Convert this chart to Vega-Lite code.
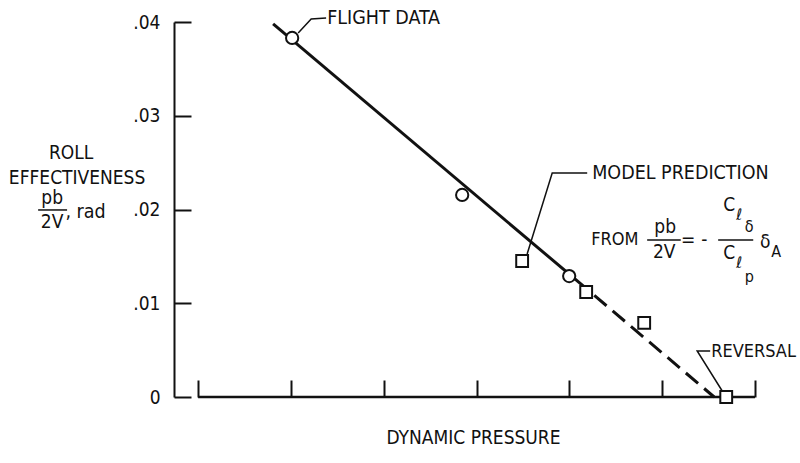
{
  "$schema": "https://vega.github.io/schema/vega-lite/v6.json",
  "autosize": "none",
  "width": 581,
  "height": 375,
  "padding": {"left": 174, "top": 22, "right": 45, "bottom": 66},
  "background": "white",
  "config": {
    "view": {"stroke": null},
    "font": "DejaVu Sans Condensed, DejaVu Sans, sans-serif",
    "text": {"color": "#111", "fontSize": 19}
  },
  "layer": [
    {
      "data": {"values": [{"a": 0, "b": 6, "y": 0}]},
      "mark": {"type": "rule", "color": "#111", "strokeWidth": 2.5},
      "encoding": {
        "x": {"field": "a", "type": "quantitative", "scale": {"domain": [-0.26, 6], "nice": false, "zero": false},
          "axis": {"values": [0, 1, 2, 3, 4, 5, 6], "domain": false, "grid": false, "labels": false, "tickSize": -17, "tickWidth": 2, "tickColor": "#111",
            "title": "DYNAMIC PRESSURE", "titleFontSize": 19, "titleFontWeight": "normal", "titleColor": "#111", "titleX": 299, "titleY": 40, "titleBaseline": "middle", "titleAlign": "center"}},
        "x2": {"field": "b"},
        "y": {"field": "y", "type": "quantitative", "scale": {"domain": [0, 0.04], "nice": false},
          "axis": {"values": [0, 0.01, 0.02, 0.03, 0.04], "grid": false, "domainWidth": 2, "domainColor": "#111", "tickSize": -17, "tickWidth": 2, "tickColor": "#111",
            "labelExpr": "datum.value == 0 ? '0' : replace(format(datum.value, '.2f'), '0.', '.')", "labelFontSize": 19, "labelColor": "#111", "labelPadding": 31, "title": null}}
      }
    },
    {
      "data": {"values": [
        {"s": "solid", "o": 1, "x": 0.808, "y": 0.0398},
        {"s": "solid", "o": 2, "x": 4.203, "y": 0.01139}
      ]},
      "mark": {"type": "line", "color": "#111", "strokeWidth": 3},
      "encoding": {"x": {"field": "x", "type": "quantitative"}, "y": {"field": "y", "type": "quantitative"}, "order": {"field": "o"}}
    },
    {
      "data": {"values": [
        {"s": "dash", "o": 1, "x": 4.203, "y": 0.01139},
        {"s": "dash", "o": 2, "x": 5.56, "y": 0}
      ]},
      "mark": {"type": "line", "color": "#111", "strokeWidth": 3, "strokeDash": [16, 8], "strokeDashOffset": -8},
      "encoding": {"x": {"field": "x", "type": "quantitative"}, "y": {"field": "y", "type": "quantitative"}, "order": {"field": "o"}}
    },
    {
      "data": {"values": [
        {"g": "flight", "o": 1, "x": 1.078, "y": 0.03883},
        {"g": "flight", "o": 2, "x": 1.218, "y": 0.04032},
        {"g": "flight", "o": 3, "x": 1.379, "y": 0.04043},
        {"g": "model", "o": 1, "x": 3.545, "y": 0.01525},
        {"g": "model", "o": 2, "x": 3.815, "y": 0.02389},
        {"g": "model", "o": 3, "x": 4.192, "y": 0.02389},
        {"g": "rev", "o": 1, "x": 5.647, "y": 0.00064},
        {"g": "rev", "o": 2, "x": 5.377, "y": 0.00491},
        {"g": "rev", "o": 3, "x": 5.517, "y": 0.00491}
      ]},
      "mark": {"type": "line", "color": "#111", "strokeWidth": 1.5},
      "encoding": {"x": {"field": "x", "type": "quantitative"}, "y": {"field": "y", "type": "quantitative"}, "detail": {"field": "g"}, "order": {"field": "o"}}
    },
    {
      "data": {"values": [
        {"x": 1.013, "y": 0.0383},
        {"x": 2.845, "y": 0.02155},
        {"x": 3.998, "y": 0.0129}
      ]},
      "mark": {"type": "point", "shape": "circle", "filled": false, "fill": "white", "fillOpacity": 1, "stroke": "#111", "strokeWidth": 2, "size": 150, "opacity": 1},
      "encoding": {"x": {"field": "x", "type": "quantitative"}, "y": {"field": "y", "type": "quantitative"}}
    },
    {
      "data": {"values": [
        {"x": 3.491, "y": 0.01451},
        {"x": 4.181, "y": 0.0112},
        {"x": 4.806, "y": 0.0079},
        {"x": 5.69, "y": 0}
      ]},
      "mark": {"type": "point", "shape": "square", "filled": false, "fill": "white", "fillOpacity": 1, "stroke": "#111", "strokeWidth": 2, "size": 140, "opacity": 1},
      "encoding": {"x": {"field": "x", "type": "quantitative"}, "y": {"field": "y", "type": "quantitative"}}
    },
    {
      "data": {"values": [
        {"a": -1.724, "b": -1.412, "y": 0.01995},
        {"a": 4.838, "b": 5.2, "y": 0.01675},
        {"a": 5.603, "b": 5.981, "y": 0.01675}
      ]},
      "mark": {"type": "rule", "color": "#111", "strokeWidth": 1.5},
      "encoding": {"x": {"field": "a", "type": "quantitative"}, "x2": {"field": "b"}, "y": {"field": "y", "type": "quantitative"}}
    },
    {
      "data": {"values": [
        {"t": "FLIGHT DATA", "x": 1.39, "y": 0.04043},
        {"t": "MODEL PREDICTION", "x": 4.246, "y": 0.02389},
        {"t": ", rad", "x": -1.43, "y": 0.01973}
      ]},
      "mark": {"type": "text", "align": "left", "baseline": "middle", "fontSize": 19.5},
      "encoding": {"x": {"field": "x", "type": "quantitative"}, "y": {"field": "y", "type": "quantitative"}, "text": {"field": "t"}}
    },
    {
      "data": {"values": [
        {"t": "REVERSAL", "x": 5.528, "y": 0.0048},
        {"t": "FROM", "x": 4.235, "y": 0.01675}
      ]},
      "mark": {"type": "text", "align": "left", "baseline": "middle", "fontSize": 18},
      "encoding": {"x": {"field": "x", "type": "quantitative"}, "y": {"field": "y", "type": "quantitative"}, "text": {"field": "t"}}
    },
    {
      "data": {"values": [
        {"t": "ROLL", "x": -1.369, "y": 0.02603},
        {"t": "EFFECTIVENESS", "x": -1.304, "y": 0.02336},
        {"t": "pb", "x": -1.573, "y": 0.02123},
        {"t": "2V", "x": -1.573, "y": 0.01867},
        {"t": "pb", "x": 5.032, "y": 0.01813},
        {"t": "2V", "x": 5.022, "y": 0.01547},
        {"t": "=", "x": 5.28, "y": 0.01675},
        {"t": "-", "x": 5.453, "y": 0.01675},
        {"t": "C", "x": 5.722, "y": 0.02048},
        {"t": "C", "x": 5.722, "y": 0.01536},
        {"t": "δ", "x": 6.11, "y": 0.01653}
      ]},
      "mark": {"type": "text", "align": "center", "baseline": "middle", "fontSize": 19},
      "encoding": {"x": {"field": "x", "type": "quantitative"}, "y": {"field": "y", "type": "quantitative"}, "text": {"field": "t"}}
    },
    {
      "data": {"values": [
        {"t": "ℓ", "x": 5.83, "y": 0.01941},
        {"t": "δ", "x": 5.938, "y": 0.01813},
        {"t": "ℓ", "x": 5.83, "y": 0.01429},
        {"t": "p", "x": 5.938, "y": 0.0128},
        {"t": "A", "x": 6.228, "y": 0.01547}
      ]},
      "mark": {"type": "text", "align": "center", "baseline": "middle", "fontSize": 16},
      "encoding": {"x": {"field": "x", "type": "quantitative"}, "y": {"field": "y", "type": "quantitative"}, "text": {"field": "t"}}
    }
  ]
}
